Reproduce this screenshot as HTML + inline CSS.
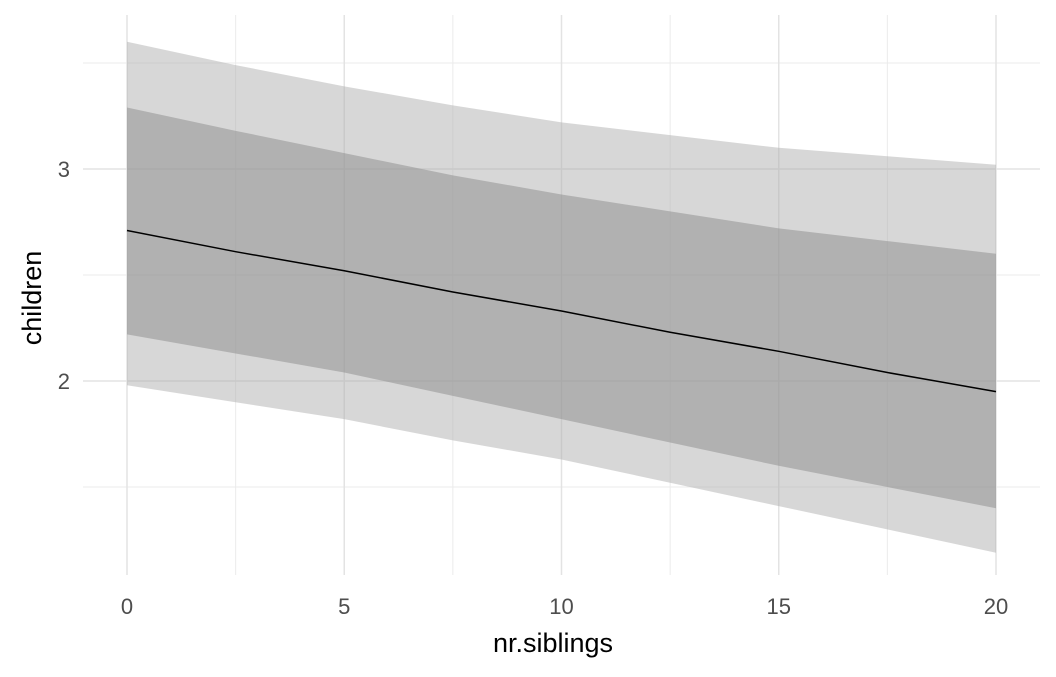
<!DOCTYPE html>
<html><head><meta charset="utf-8"><style>
body{margin:0;background:#fff}
text{font-family:"Liberation Sans",sans-serif}
</style></head><body>
<svg id="chart" width="1056" height="672" xmlns="http://www.w3.org/2000/svg">
<g id="grid"></g>
<g id="bands"></g>
<g id="axes"></g>
<text x="553" y="652" font-size="27" text-anchor="middle" fill="#000">nr.siblings</text>
<text transform="translate(41,298) rotate(-90)" font-size="27" text-anchor="middle" fill="#000">children</text>
</svg>
<script>
const xs=[0,2.5,5,7.5,10,12.5,15,17.5,20];
const outerHi=[3.60,3.49,3.39,3.30,3.22,3.16,3.10,3.06,3.02];
const innerHi=[3.29,3.18,3.075,2.97,2.88,2.80,2.72,2.66,2.60];
const fitLine=[2.71,2.61,2.52,2.42,2.33,2.23,2.14,2.04,1.95];
const innerLo=[2.22,2.13,2.04,1.93,1.82,1.71,1.60,1.50,1.40];
const outerLo=[1.98,1.90,1.82,1.72,1.63,1.52,1.41,1.30,1.19];
const xTicks=[0,5,10,15,20];
const yTicks=[2,3];
const xMinor=[2.5,7.5,12.5,17.5];
const yMinor=[1.5,2.5,3.5];
const X=v=>127+v*43.45, Y=v=>381-(v-2)*212;
const NS="http://www.w3.org/2000/svg";
function mk(p,tag,a){const e=document.createElementNS(NS,tag);for(const k in a)e.setAttribute(k,a[k]);p.appendChild(e);return e;}
const g=document.getElementById('grid');
xMinor.forEach(v=>{const l=mk(g,'line',{x1:X(v),x2:X(v),y1:15,y2:575,stroke:'#ebebeb','stroke-width':1});

});
yMinor.forEach(v=>{const l=mk(g,'line',{x1:83,x2:1040,y1:Y(v),y2:Y(v),stroke:'#ebebeb','stroke-width':1});

});
xTicks.forEach(v=>{const l=mk(g,'line',{x1:X(v),x2:X(v),y1:15,y2:575,stroke:'#e3e3e3','stroke-width':1.5});

});
yTicks.forEach(v=>{const l=mk(g,'line',{x1:83,x2:1040,y1:Y(v),y2:Y(v),stroke:'#e3e3e3','stroke-width':1.5});

});
const b=document.getElementById('bands');
function band(hi,lo,fill,name){
 let d=xs.map((x,i)=>(i?'L':'M')+X(x)+','+Y(hi[i])).join('');
 for(let i=xs.length-1;i>=0;i--)d+='L'+X(xs[i])+','+Y(lo[i]);
 const p=mk(b,'path',{d:d+'Z',fill:fill,'fill-opacity':0.5});
 
 
}
band(outerHi,outerLo,'#b0b0b0','outer-band');
band(innerHi,innerLo,'#8c8c8c','inner-band');
const ln=mk(b,'path',{d:xs.map((x,i)=>(i?'L':'M')+X(x)+','+Y(fitLine[i])).join(''),stroke:'#000','stroke-width':1.5,fill:'none'});


const a=document.getElementById('axes');
xTicks.forEach(v=>{const t=mk(a,'text',{x:X(v),y:614,'font-size':22,'text-anchor':'middle',fill:'#4d4d4d'});t.textContent=v;

});
yTicks.forEach(v=>{const t=mk(a,'text',{x:70,y:Y(v)+8,'font-size':22,'text-anchor':'end',fill:'#4d4d4d'});t.textContent=v;

});
</script>
</body></html>
